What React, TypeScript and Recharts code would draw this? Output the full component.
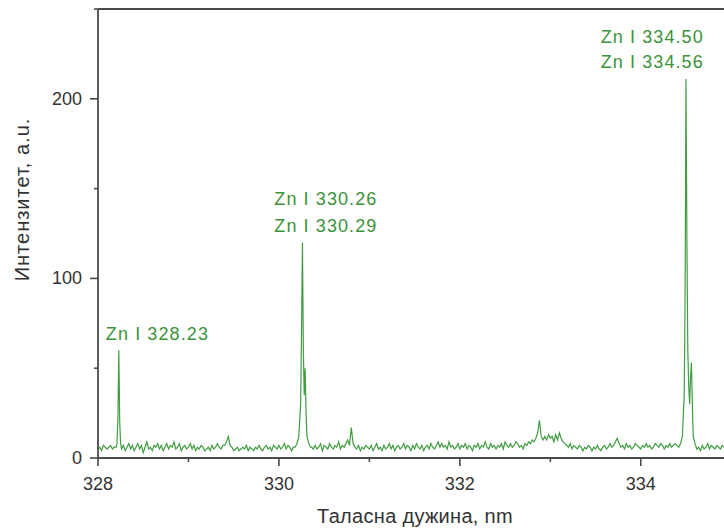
import React from "react";
import { LineChart, Line, XAxis, YAxis, ReferenceLine, ReferenceDot } from "recharts";

// ---- data ----
const gridStart = 328.0;
const gridStep = 0.02;
// baseline intensities on a 0.02 nm grid, 328.00 .. 334.92
const baselineIntensity: number[] = [
  5, 6, 4, 7, 6, 5, 6, 7, 5, 6,
  6, 7, 6, 5, 7, 4, 6, 8, 5, 7,
  4, 6, 8, 5, 7, 3, 6, 9, 5, 6,
  4, 7, 6, 8, 5, 7, 4, 6, 8, 5,
  7, 6, 9, 5, 6, 8, 4, 6, 7, 5,
  6, 8, 5, 7, 4, 6, 5, 7, 6, 4,
  5, 6, 4, 7, 5, 6, 8, 6, 5, 7,
  7, 9, 12, 7, 6, 4, 5, 6, 4, 5,
  6, 5, 7, 4, 6, 5, 4, 6, 5, 7,
  5, 4, 6, 7, 5, 6, 4, 7, 6, 5,
  7, 5, 6, 8, 5, 7, 6, 4, 6, 7,
  8, 12, 30, 60, 35, 25, 10, 7, 6, 5,
  7, 5, 6, 8, 4, 7, 6, 5, 8, 6,
  5, 7, 6, 9, 5, 7, 6, 8, 10, 7,
  17, 8, 6, 5, 7, 4, 6, 5, 7, 6,
  5, 7, 4, 6, 8, 5, 6, 4, 7, 5,
  6, 8, 5, 7, 4, 6, 7, 5, 6, 8,
  5, 7, 6, 4, 7, 5, 8, 6, 5, 7,
  4, 6, 7, 5, 8, 6, 5, 7, 9, 6,
  8, 6, 7, 5, 9, 6, 7, 5, 6, 8,
  5, 7, 6, 8, 5, 7, 6, 4, 7, 6,
  8, 5, 7, 6, 9, 6, 5, 8, 6, 7,
  5, 7, 6, 8, 5, 9, 7, 6, 8, 6,
  7, 9, 8, 6, 7, 5, 8, 7, 9, 8,
  10, 9, 11, 14, 21, 12, 10, 12, 10, 13,
  11, 12, 9, 13, 10, 14, 11, 9, 8, 7,
  6, 8, 5, 7, 6, 5, 7, 6, 4, 6,
  5, 7, 6, 4, 6, 5, 7, 5, 4, 6,
  7, 5, 6, 8, 6, 7, 9, 11, 8, 6,
  7, 5, 8, 6, 7, 5, 6, 8, 7, 6,
  5, 7, 6, 8, 6, 7, 5, 6, 8, 7,
  6, 8, 7, 5, 7, 6, 8, 6, 7, 8,
  7, 8, 9, 12, 35, 211, 60, 30, 53, 12,
  8, 5, 6, 4, 7, 5, 6, 8, 5, 7,
  6, 5, 7, 6, 5, 7, 6,
];

// detailed peak profiles [wavelength, intensity]
const peak328: [number, number][] = [
  [328.2, 6], [328.21, 8], [328.22, 22], [328.23, 60], [328.24, 20], [328.25, 8], [328.26, 5],
];
const peak330: [number, number][] = [
  [330.18, 6], [330.2, 8], [330.22, 12], [330.24, 30], [330.25, 70], [330.26, 120], [330.27, 60],
  [330.28, 35], [330.29, 50], [330.3, 25], [330.31, 12], [330.33, 8], [330.35, 6],
];
const peak334: [number, number][] = [
  [334.42, 6], [334.44, 8], [334.46, 12], [334.48, 35], [334.49, 90], [334.5, 211], [334.51, 120],
  [334.52, 60], [334.53, 40], [334.54, 30], [334.55, 45], [334.56, 53], [334.57, 30], [334.58, 12],
  [334.6, 8], [334.62, 5],
];
const peakSegments = [peak328, peak330, peak334];

const xTicks = [328, 329, 330, 331, 332, 333, 334];
const xMajorTicks = [328, 330, 332, 334];
const yTicks = [0, 50, 100, 150, 200, 250];
const yMajorTicks = [0, 100, 200];

const annotations = [
  { x: 328.657, y: 65.6, text: "Zn I 328.23" },
  { x: 330.519, y: 141.1, text: "Zn I 330.26" },
  { x: 330.519, y: 126.1, text: "Zn I 330.29" },
  { x: 334.127, y: 231.1, text: "Zn I 334.50" },
  { x: 334.127, y: 217.2, text: "Zn I 334.56" },
];

const xTitle = "Таласна дужина, nm";
const yTitle = "Интензитет, a.u.";

// ---- build table ----
const gridPoints = baselineIntensity.map((v, i) => ({
  wl: Math.round((gridStart + i * gridStep) * 100) / 100,
  v,
}));
const inPeak = (wl: number) =>
  peakSegments.some((seg) => wl >= seg[0][0] - 1e-6 && wl <= seg[seg.length - 1][0] + 1e-6);
const chartData = [
  ...gridPoints.filter((p) => !inPeak(p.wl)),
  ...peakSegments.flat().map(([wl, v]) => ({ wl, v })),
].sort((a, b) => a.wl - b.wl);

// ---- styles ----
const FONT = "'Liberation Sans', Arial, sans-serif";
const AXIS_COLOR = "#4a4a4a";
const TEXT_COLOR = "#333333";
const LINE_COLOR = "#429d42";
const ANN_COLOR = "#3a923a";

const XTick = (props: any) => {
  const { x, y, payload } = props;
  const major = xMajorTicks.includes(payload.value);
  return (
    <g>
      <line x1={x} x2={x} y1={y} y2={y + (major ? 8 : 4)} stroke={AXIS_COLOR} strokeWidth={1.6} />
      {major && (
        <text x={x} y={y + 32} textAnchor="middle" fill={TEXT_COLOR} fontSize={18} fontFamily={FONT}>
          {payload.value}
        </text>
      )}
    </g>
  );
};

const YTick = (props: any) => {
  const { x, y, payload } = props;
  const major = yMajorTicks.includes(payload.value);
  return (
    <g>
      <line x1={x - (major ? 8 : 4)} x2={x} y1={y} y2={y} stroke={AXIS_COLOR} strokeWidth={1.6} />
      {major && (
        <text x={x - 16} y={y + 6} textAnchor="end" fill={TEXT_COLOR} fontSize={18} fontFamily={FONT}>
          {payload.value}
        </text>
      )}
    </g>
  );
};

const XTitle = (props: any) => {
  const vb = props.viewBox;
  return (
    <text x={vb.x + vb.width / 2 + 4} y={vb.y + 65} textAnchor="middle" fill={TEXT_COLOR} fontSize={20} letterSpacing={0.3} fontFamily={FONT}>
      {xTitle}
    </text>
  );
};

const YTitle = (props: any) => {
  const vb = props.viewBox;
  const cx = vb.x + 22;
  const cy = vb.y + vb.height / 2 - 34;
  return (
    <text
      x={cx}
      y={cy}
      transform={`rotate(-90 ${cx} ${cy})`}
      textAnchor="middle"
      dominantBaseline="central"
      fill={TEXT_COLOR}
      fontSize={20}
      letterSpacing={1}
      fontFamily={FONT}
    >
      {yTitle}
    </text>
  );
};

const AnnLabel = (text: string) => (props: any) => {
  const vb = props.viewBox;
  const cx = vb.x + (vb.width || 0) / 2;
  const cy = vb.y + (vb.height || 0) / 2;
  return (
    <text x={cx} y={cy} textAnchor="middle" fill={ANN_COLOR} fontSize={18} letterSpacing={1.1} fontFamily={FONT}>
      {text}
    </text>
  );
};

export default function App() {
  return (
    <div style={{ position: "absolute", left: 0, top: 0, width: 724, height: 531, background: "#fff", overflow: "hidden" }}>
      <LineChart width={724} height={531} data={chartData} margin={{ top: 9, right: 0, bottom: 0, left: 0 }}>
        <XAxis
          dataKey="wl"
          type="number"
          domain={[328, 334.92]}
          allowDataOverflow
          ticks={xTicks}
          interval={0}
          tickSize={0}
          tickMargin={0}
          tickLine={false}
          tick={<XTick />}
          axisLine={{ stroke: AXIS_COLOR, strokeWidth: 1.8 }}
          height={73}
          label={<XTitle />}
        />
        <YAxis
          type="number"
          domain={[0, 250]}
          allowDataOverflow
          ticks={yTicks}
          interval={0}
          tickSize={0}
          tickMargin={0}
          tickLine={false}
          tick={<YTick />}
          axisLine={{ stroke: AXIS_COLOR, strokeWidth: 1.8 }}
          width={98}
          label={<YTitle />}
        />
        <ReferenceLine y={250} stroke={AXIS_COLOR} strokeWidth={1.8} />
        <Line
          type="linear"
          dataKey="v"
          stroke={LINE_COLOR}
          strokeWidth={1.2}
          dot={false}
          isAnimationActive={false}
        />
        {annotations.map((a, i) => (
          <ReferenceDot
            key={i}
            x={a.x}
            y={a.y}
            r={0}
            fill="none"
            stroke="none"
            label={AnnLabel(a.text)}
          />
        ))}
      </LineChart>
    </div>
  );
}
